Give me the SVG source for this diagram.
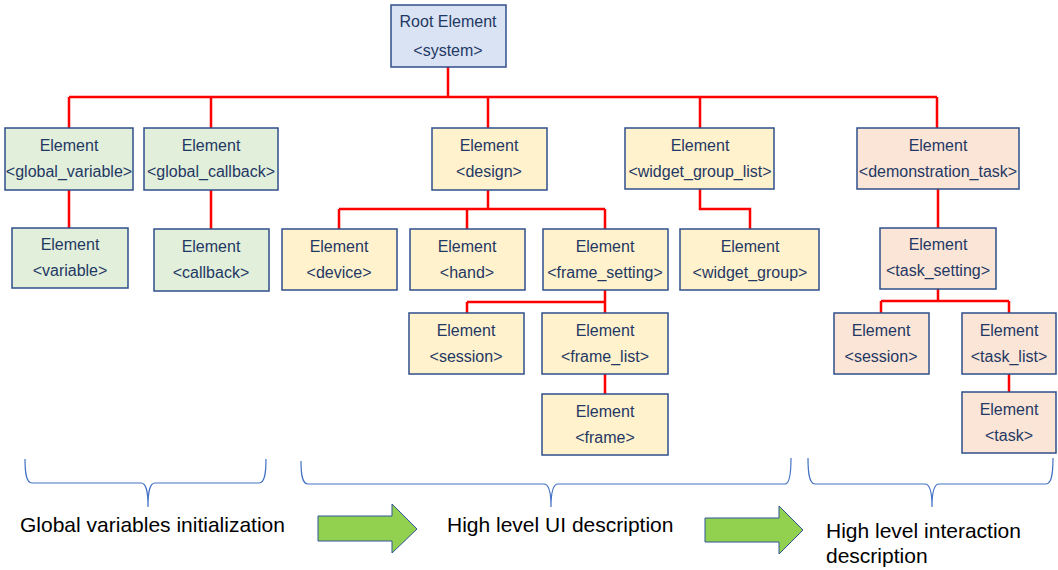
<svg xmlns="http://www.w3.org/2000/svg" width="1058" height="570" viewBox="0 0 1058 570">
<style>
.box{stroke:#2F4F8A;stroke-width:1.5}
.g{fill:#E2EFDA}.y{fill:#FFF2CC}.p{fill:#FBE5D6}.b{fill:#DAE3F3}
.t{font-family:"Liberation Sans",Arial,sans-serif;font-size:16px;fill:#1F3864;text-anchor:middle}
.c{fill:none;stroke:#FF0000;stroke-width:2.5}
.br{fill:none;stroke:#4472C4;stroke-width:1.2}
.lab{font-family:"Liberation Sans",Arial,sans-serif;font-size:21px;fill:#000}
.arr{fill:#92D050;stroke:#2F5597;stroke-width:1}
</style>
<rect width="1058" height="570" fill="#fff"/>
<g id="connectors">
<path class="c" d="M448,67V97M69,97H937M69,97V128M211,97V128M488,97V128M700,97V128M937,97V128"/>
<path class="c" d="M69,190V228M211,190V229"/>
<path class="c" d="M488,190V209M339,209H605M339,209V229M467,209V229M605,209V229"/>
<path class="c" d="M605,290V302M467,302H605M467,302V313M605,302V313M605,374V394"/>
<path class="c" d="M700,189V209H750V229"/>
<path class="c" d="M938,189V228M938,289V301M881,301H1009M881,301V313M1009,301V313M1009,374V392"/>
</g>
<g id="root"><rect class="box b" x="391" y="5" width="115" height="62"/><text class="t" x="448" y="27">Root Element</text><text class="t" x="448" y="56">&lt;system&gt;</text></g>
<g id="global_variable"><rect class="box g" x="5" y="128" width="128" height="62"/><text class="t" x="69" y="151">Element</text><text class="t" x="69" y="177">&lt;global_variable&gt;</text></g>
<g id="global_callback"><rect class="box g" x="144" y="128" width="134" height="62"/><text class="t" x="211" y="151">Element</text><text class="t" x="211" y="177">&lt;global_callback&gt;</text></g>
<g id="design"><rect class="box y" x="432" y="128" width="115" height="62"/><text class="t" x="489" y="151">Element</text><text class="t" x="489" y="177">&lt;design&gt;</text></g>
<g id="widget_group_list"><rect class="box y" x="625" y="128" width="149" height="61"/><text class="t" x="700" y="151">Element</text><text class="t" x="700" y="177">&lt;widget_group_list&gt;</text></g>
<g id="demonstration_task"><rect class="box p" x="857" y="128" width="162" height="61"/><text class="t" x="938" y="151">Element</text><text class="t" x="938" y="177">&lt;demonstration_task&gt;</text></g>
<g id="variable"><rect class="box g" x="12" y="228" width="116" height="60"/><text class="t" x="70" y="250">Element</text><text class="t" x="70" y="276">&lt;variable&gt;</text></g>
<g id="callback"><rect class="box g" x="154" y="229" width="115" height="62"/><text class="t" x="211" y="252">Element</text><text class="t" x="211" y="278">&lt;callback&gt;</text></g>
<g id="device"><rect class="box y" x="282" y="229" width="115" height="61"/><text class="t" x="339" y="252">Element</text><text class="t" x="339" y="278">&lt;device&gt;</text></g>
<g id="hand"><rect class="box y" x="410" y="229" width="115" height="61"/><text class="t" x="467" y="252">Element</text><text class="t" x="467" y="278">&lt;hand&gt;</text></g>
<g id="frame_setting"><rect class="box y" x="543" y="229" width="125" height="61"/><text class="t" x="605" y="252">Element</text><text class="t" x="605" y="278">&lt;frame_setting&gt;</text></g>
<g id="widget_group"><rect class="box y" x="680" y="229" width="139" height="61"/><text class="t" x="750" y="252">Element</text><text class="t" x="750" y="278">&lt;widget_group&gt;</text></g>
<g id="task_setting"><rect class="box p" x="880" y="228" width="116" height="61"/><text class="t" x="938" y="250">Element</text><text class="t" x="938" y="276">&lt;task_setting&gt;</text></g>
<g id="session1"><rect class="box y" x="409" y="313" width="115" height="61"/><text class="t" x="466" y="336">Element</text><text class="t" x="466" y="362">&lt;session&gt;</text></g>
<g id="frame_list"><rect class="box y" x="542" y="313" width="126" height="61"/><text class="t" x="605" y="336">Element</text><text class="t" x="605" y="362">&lt;frame_list&gt;</text></g>
<g id="frame"><rect class="box y" x="542" y="394" width="126" height="61"/><text class="t" x="605" y="417">Element</text><text class="t" x="605" y="443">&lt;frame&gt;</text></g>
<g id="session2"><rect class="box p" x="834" y="313" width="95" height="61"/><text class="t" x="881" y="336">Element</text><text class="t" x="881" y="362">&lt;session&gt;</text></g>
<g id="task_list"><rect class="box p" x="962" y="313" width="94" height="61"/><text class="t" x="1009" y="336">Element</text><text class="t" x="1009" y="362">&lt;task_list&gt;</text></g>
<g id="task"><rect class="box p" x="962" y="392" width="94" height="61"/><text class="t" x="1009" y="415">Element</text><text class="t" x="1009" y="441">&lt;task&gt;</text></g>
<g id="braces">
<path class="br" d="M25,459C25,472 26,483 32,483H141C146,483 148,490 148,507C148,490 150,483 155,483H259C265,483 266,472 266,459"/>
<path class="br" d="M301,461C301,474 302,484 308,484H544C549,484 551,491 551,507C551,491 553,484 558,484H785C790,484 791,472 791,458"/>
<path class="br" d="M808,458C808,472 809,484 815,484H925C930,484 932,491 932,507C932,491 934,484 939,484H1046C1052,484 1053,472 1053,458"/>
</g>
<g id="arrows">
<polygon class="arr" points="318,516 392,516 392,504 417,529 392,553 392,541 318,541"/>
<polygon class="arr" points="705,518 779,518 779,506 803,530 779,554 779,542 705,542"/>
</g>
<g id="labels">
<text class="lab" x="20" y="532">Global variables initialization</text>
<text class="lab" x="447" y="532">High level UI description</text>
<text class="lab" x="826" y="538">High level interaction</text>
<text class="lab" x="826" y="563">description</text>
</g>
</svg>
